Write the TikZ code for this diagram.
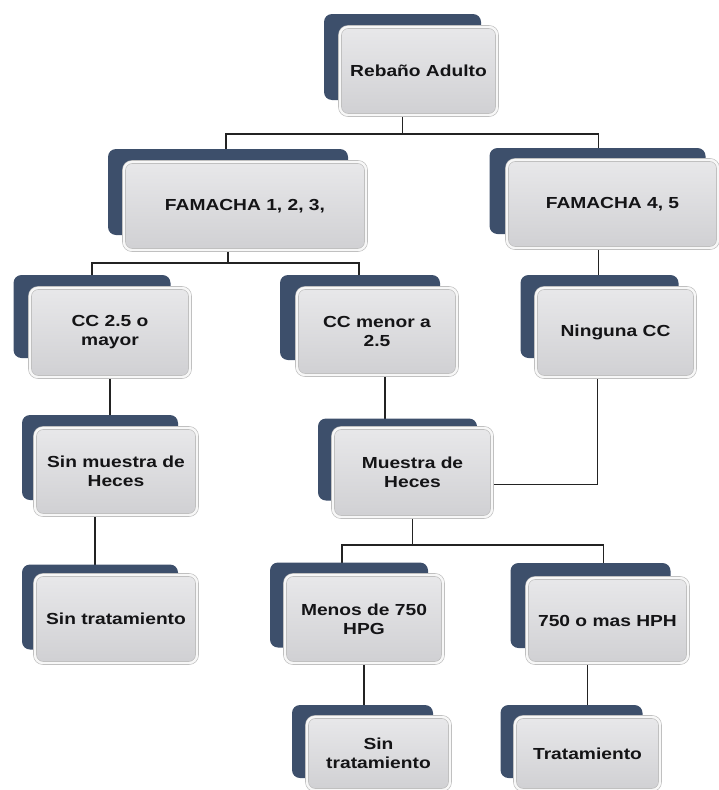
\documentclass[tikz,border=0pt]{standalone}
\usepackage{fontspec}
\newfontfamily\boxfont[FakeStretch=1.2]{Liberation Sans}
\usepackage{tikz}
\usetikzlibrary{backgrounds}
\definecolor{backblue}{RGB}{61,79,107}
\definecolor{boxtop}{RGB}{232,232,234}
\definecolor{boxbot}{RGB}{208,208,211}
\definecolor{boxtext}{RGB}{20,20,22}
\definecolor{linkgray}{RGB}{35,35,35}
\tikzset{
  frontbox/.style={rounded corners=8pt, draw=gray!55, double=gray!6,
    double distance=2.4pt, line width=.6pt, top color=boxtop,
    bottom color=boxbot, align=center, text=boxtext, inner sep=3pt,
    font=\boxfont\bfseries\fontsize{16}{19}\selectfont},
  backbox/.style={rounded corners=8pt, fill=backblue, inner sep=0pt},
  link/.style={draw=linkgray, line width=1.7pt}
}

\begin{document}
\begin{tikzpicture}[x=1pt,y=-1pt]
    \useasboundingbox (0,0) rectangle (718,790);

    % front boxes
    \node[frontbox, minimum width=157pt, minimum height=88pt] (adulto) at (418.5,71) {Rebaño Adulto};
    \node[frontbox, minimum width=242pt, minimum height=88pt] (fam1) at (245,206) {FAMACHA 1, 2, 3,};
    \node[frontbox, minimum width=211pt, minimum height=88pt] (fam2) at (612.5,204) {FAMACHA 4, 5};
    \node[frontbox, minimum width=160pt, minimum height=89pt] (cc1) at (110,332.5) {CC 2.5 o\\mayor};
    \node[frontbox, minimum width=160pt, minimum height=87pt] (cc2) at (377,331.5) {CC menor a\\2.5};
    \node[frontbox, minimum width=159pt, minimum height=89pt] (cc3) at (615.5,332.5) {Ninguna CC};
    \node[frontbox, minimum width=162pt, minimum height=87pt] (sinm) at (116,471.5) {Sin muestra de\\Heces};
    \node[frontbox, minimum width=159pt, minimum height=89pt] (mues) at (412.5,472.5) {Muestra de\\Heces};
    \node[frontbox, minimum width=162pt, minimum height=88pt] (sint1) at (116,619) {Sin tratamiento};
    \node[frontbox, minimum width=158pt, minimum height=88pt] (menos) at (364,619) {Menos de 750\\HPG};
    \node[frontbox, minimum width=161pt, minimum height=85pt] (mas) at (607.5,620.5) {750 o mas HPH};
    \node[frontbox, minimum width=143pt, minimum height=73pt] (sint2) at (378.5,753.5) {Sin\\tratamiento};
    \node[frontbox, minimum width=145pt, minimum height=73pt] (trat) at (587.5,753.5) {Tratamiento};

    \begin{scope}[on background layer]
    % connectors
    \coordinate (bus1) at (0,134);
    \coordinate (bus2) at (0,263);
    \coordinate (bus3) at (0,545);
    \draw[link] (adulto.center) ++(-16,0) coordinate (adulto-c) -- (adulto-c |- bus1) -| ([xshift=-19pt]fam1.center);
    \draw[link] (adulto-c |- bus1) -| ([xshift=-14pt]fam2.center);
    \draw[link] ([xshift=-17pt]fam1.center) -- ([xshift=-17pt]fam1.center |- bus2) -| ([xshift=-18pt]cc1.center);
    \draw[link] ([xshift=-17pt]fam1.center |- bus2) -| ([xshift=-18pt]cc2.center);
    \draw[link] ([xshift=-14pt]fam2.center) -- ([xshift=-14pt]fam2.center |- cc3.north);
    \draw[link] (cc1.center) -- (cc1.center |- sinm.north);
    \draw[link] ([xshift=8pt]cc2.center) -- ([xshift=8pt]cc2.center |- mues.north);
    \draw[link] ([xshift=-18pt]cc3.center) |- ([yshift=-12pt]mues.center);
    \draw[link] (mues.center) -- (mues.center |- bus3) -| ([xshift=-22pt]menos.center);
    \draw[link] (mues.center |- bus3) -| ([xshift=-4pt]mas.center);
    \draw[link] ([xshift=-21pt]sinm.center) -- ([xshift=-21pt]sinm.center |- sint1.north);
    \draw[link] (menos.center) -- (menos.center |- sint2.north);
    \draw[link] (trat.center |- mas.center) -- (trat.center |- trat.north);

    % back boxes
    \node[backbox, minimum width=157pt, minimum height=86pt] (adulto-b) at ([shift={(-16,-14)}]adulto) {};
    \node[backbox, minimum width=240pt, minimum height=86pt] (fam1-b) at ([shift={(-17,-14)}]fam1) {};
    \node[backbox, minimum width=216pt, minimum height=86pt] (fam2-b) at ([shift={(-15,-13)}]fam2) {};
    \node[backbox, minimum width=157pt, minimum height=83pt] (cc1-b) at ([shift={(-18,-16)}]cc1) {};
    \node[backbox, minimum width=160pt, minimum height=85pt] (cc2-b) at ([shift={(-17,-14)}]cc2) {};
    \node[backbox, minimum width=158pt, minimum height=83pt] (cc3-b) at ([shift={(-16,-16)}]cc3) {};
    \node[backbox, minimum width=156pt, minimum height=85pt] (sinm-b) at ([shift={(-16,-14)}]sinm) {};
    \node[backbox, minimum width=159pt, minimum height=82pt] (mues-b) at ([shift={(-15,-13)}]mues) {};
    \node[backbox, minimum width=156pt, minimum height=85pt] (sint1-b) at ([shift={(-16,-12)}]sint1) {};
    \node[backbox, minimum width=158pt, minimum height=85pt] (menos-b) at ([shift={(-15,-14)}]menos) {};
    \node[backbox, minimum width=160pt, minimum height=85pt] (mas-b) at ([shift={(-17,-15)}]mas) {};
    \node[backbox, minimum width=141pt, minimum height=73pt] (sint2-b) at ([shift={(-16,-12)}]sint2) {};
    \node[backbox, minimum width=142pt, minimum height=73pt] (trat-b) at ([shift={(-16,-12)}]trat) {};
    \end{scope}
\end{tikzpicture}
\end{document}
